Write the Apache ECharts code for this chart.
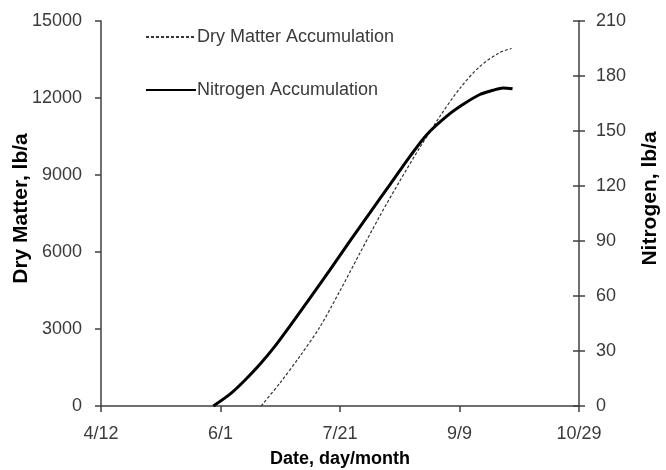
<!DOCTYPE html>
<html>
<head>
<meta charset="utf-8">
<script src="https://cdn.jsdelivr.net/npm/echarts@6/dist/echarts.min.js"></script>
<style>html,body{margin:0;padding:0;background:#fff}#c{width:666px;height:470px}</style>
</head>
<body>
<div id="c"></div>
<script>
// x values are days after 4/12
const tickLabels = ['4/12', '6/1', '7/21', '9/9', '10/29'];
const dmDays = [67.0, 74.9, 83.3, 91.6, 100.0, 108.4, 116.7, 125.1, 133.4, 141.7, 150.1, 158.4, 166.8, 171.8];
const dmValues = [0, 900, 1950, 3080, 4490, 5970, 7410, 8780, 10070, 11270, 12370, 13220, 13770, 13930];
const nDays = [47.0, 54.1, 60.3, 66.6, 72.9, 79.1, 87.5, 95.8, 104.2, 112.5, 120.9, 129.2, 136.3, 144.7, 151.4, 158.5, 164.0, 168.2, 172.2];
const nValues = [0, 6.6, 14.2, 22.9, 32.8, 43.7, 59.0, 74.3, 90.1, 105.4, 120.7, 136.0, 148.0, 158.1, 164.4, 169.9, 172.2, 173.5, 173.0];
const seriesNames = ['Dry Matter Accumulation', 'Nitrogen Accumulation'];

const FONT = "'Liberation Sans', Arial, sans-serif";
const AX = '#404040';
const TXT = '#3a3a3a';

const chart = echarts.init(document.getElementById('c'), null, {renderer: 'canvas'});
chart.setOption({
  animation: false,
  backgroundColor: '#fff',
  grid: {left: 101, right: 87, top: 21, bottom: 64, containLabel: false, outerBoundsMode: 'none'},
  legend: {
    orient: 'vertical', left: 140, top: 23, itemWidth: 50, itemHeight: 20, itemGap: 35,
    data: seriesNames,
    itemStyle: {opacity: 0},
    textStyle: {fontFamily: FONT, fontSize: 18, color: TXT, padding: [0, 0, 0, -4]}
  },
  xAxis: {
    type: 'value', min: 0, max: 200, interval: 50,
    name: 'Date, day/month', nameLocation: 'middle', nameGap: 44, nameMoveOverlap: false,
    nameTextStyle: {fontFamily: FONT, fontSize: 18, fontWeight: 'bold', color: '#000'},
    axisLine: {show: true, lineStyle: {color: AX, width: 1.5}},
    axisTick: {show: true, length: 6, lineStyle: {color: AX, width: 1.5}},
    axisLabel: {fontFamily: FONT, fontSize: 18, color: TXT, margin: 19,
      formatter: v => tickLabels[Math.round(v / 50)]},
    splitLine: {show: false}
  },
  yAxis: [
    {
      type: 'value', min: 0, max: 15000, interval: 3000, position: 'left',
      name: 'Dry Matter, lb/a', nameLocation: 'middle', nameGap: 69, nameRotate: 90, nameMoveOverlap: false,
      nameTextStyle: {fontFamily: FONT, fontSize: 21, fontWeight: 'bold', color: '#000', padding: [0, 0, 0, 10]},
      axisLine: {show: true, lineStyle: {color: AX, width: 1.5}},
      axisTick: {show: true, length: 6, lineStyle: {color: AX, width: 1.5}},
      axisLabel: {fontFamily: FONT, fontSize: 18, color: TXT, margin: 19, formatter: v => String(v)},
      splitLine: {show: false}
    },
    {
      type: 'value', min: 0, max: 210, interval: 30, position: 'right',
      name: 'Nitrogen, lb/a', nameLocation: 'middle', nameGap: 61, nameRotate: 90, nameMoveOverlap: false,
      nameTextStyle: {fontFamily: FONT, fontSize: 21, fontWeight: 'bold', color: '#000', padding: [0, 0, 0, 30]},
      axisLine: {show: true, lineStyle: {color: AX, width: 1.5}},
      axisTick: {show: true, length: 6, lineStyle: {color: AX, width: 1.5}},
      axisLabel: {fontFamily: FONT, fontSize: 18, color: TXT, margin: 17},
      splitLine: {show: false}
    },
    {
      type: 'value', min: 0, max: 210, interval: 30, position: 'right',
      axisLine: {show: false},
      axisTick: {show: true, inside: true, length: 6, lineStyle: {color: AX, width: 1.5}},
      axisLabel: {show: false},
      splitLine: {show: false}
    }
  ],
  series: [
    {
      name: seriesNames[0], type: 'line', yAxisIndex: 0, symbol: 'none', smooth: 0.3,
      lineStyle: {color: '#333', width: 1.2, type: [3, 2]},
      itemStyle: {color: '#333'},
      data: dmDays.map((d, i) => [d, dmValues[i]])
    },
    {
      name: seriesNames[1], type: 'line', yAxisIndex: 1, symbol: 'none', smooth: 0.3,
      lineStyle: {color: '#000', width: 3},
      itemStyle: {color: '#000'},
      data: nDays.map((d, i) => [d, nValues[i]])
    }
  ]
});
</script>
</body>
</html>
